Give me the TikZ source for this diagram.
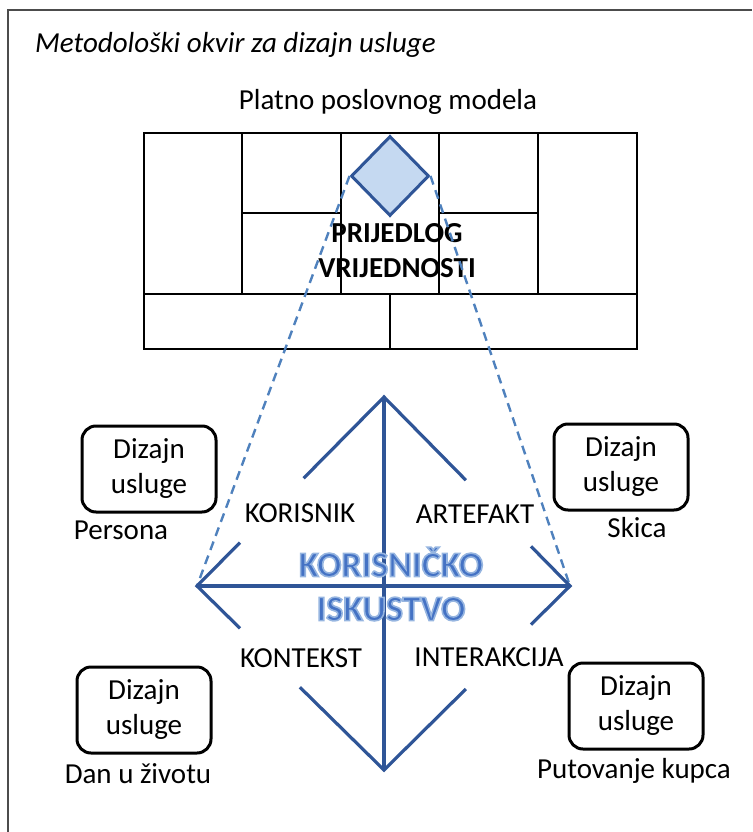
\documentclass[tikz,border=0pt]{standalone}
\usepackage{fontspec}
\setmainfont{Carlito}
\usetikzlibrary{shapes.geometric,calc}
\definecolor{uxblue}{RGB}{47,85,151}
\definecolor{dashblue}{RGB}{79,129,189}
\definecolor{vpfill}{RGB}{197,217,241}
\definecolor{uxtext}{RGB}{68,114,196}
\newcommand{\txtsize}{\fontsize{29}{35}\selectfont}
\newcommand{\uxsize}{\fontsize{36}{44}\selectfont}
% outlined (glow-like) text: fill + light stroke
\newcommand{\glowtxt}[1]{%
	\textcolor{uxtext}{%
	\special{pdf:literal direct 2 Tr 1.6 w 0.59 0.71 0.88 RG}%
	#1%
	\special{pdf:literal direct 0 Tr}}}
\tikzset{
	cell/.style={draw=black, line width=2.8pt},
	lbl/.style={inner sep=0pt, font=\txtsize},
	svcbox/.style={
		draw, line width=3pt, rounded corners=14pt, align=center,
		minimum width=134pt, minimum height=86pt, inner sep=0pt, font=\txtsize
	},
	uxline/.style={draw=uxblue, line width=3.2pt},
	zoomline/.style={draw=dashblue, line width=2.4pt, dash pattern=on 9pt off 6pt},
}

\begin{document}
\begin{tikzpicture}[x=1pt, y=-1pt]
\useasboundingbox (0,0) rectangle (752,832);
% frame
\draw[line width=1.5pt, draw=black!70] (8,832) -- (8,10) -- (752,10);
\node[lbl, anchor=west, font=\txtsize\itshape] (title) at (35,45) {Metodološki okvir za dizajn usluge};

% business model canvas
\node[lbl] (bmc) at (388,102) {Platno poslovnog modela};
\draw[cell] (144,133) rectangle (637,349);
\draw[cell] (144,294) -- (637,294);
\foreach \x in {242,341,439,538}
	\draw[cell] (\x,133) -- (\x,294);
\draw[cell] (242,213) -- (341,213);
\draw[cell] (439,213) -- (538,213);
\draw[cell] (390,294) -- (390,349);
\node[diamond, draw=uxblue, fill=vpfill, line width=3pt, inner sep=0pt,
	minimum width=78pt, minimum height=80pt] (vp) at (390,176) {};
\node[lbl, font=\txtsize\bfseries, align=center] (vptext) at (397,251)
	{PRIJEDLOG\\VRIJEDNOSTI};

% user experience diamond
\coordinate (ut) at (384,397);
\coordinate (ub) at (384,770);
\coordinate (ul) at (197,586);
\coordinate (ur) at (570,586);
\draw[zoomline] (vp.west) -- (ul);
\draw[zoomline] (vp.east) -- (ur);
\draw[uxline] (ut) -- (ub);
\draw[uxline] (ul) -- (ur);
\draw[uxline] ($(ut)!0.43!(ul)$) -- (ut) -- ($(ut)!0.44!(ur)$);
\draw[uxline] ($(ul)!0.23!(ut)$) -- (ul) -- ($(ul)!0.23!(ub)$);
\draw[uxline] ($(ur)!0.21!(ut)$) -- (ur) -- ($(ur)!0.21!(ub)$);
\draw[uxline] ($(ub)!0.45!(ul)$) -- (ub) -- ($(ub)!0.44!(ur)$);
\node[lbl] (user) at (300,513) {KORISNIK};
\node[lbl] (artefact) at (475,514) {ARTEFAKT};
\node[lbl] (context) at (301,658) {KONTEKST};
\node[lbl] (interaction) at (489,657) {INTERAKCIJA};
\node[lbl, font=\uxsize\bfseries, align=center] (ux) at (391,584)
	{\glowtxt{KORISNIČKO}\\\glowtxt{ISKUSTVO}};

% service design tools
\node[svcbox] (persona) at (149,469) {Dizajn\\usluge};
\node[svcbox] (sketch) at (621,467) {Dizajn\\usluge};
\node[svcbox] (dayinlife) at (144,710) {Dizajn\\usluge};
\node[svcbox] (journey) at (636,706) {Dizajn\\usluge};
\node[lbl] (personatxt) at (121,530) {Persona};
\node[lbl] (sketchtxt) at (637,528) {Skica};
\node[lbl] (dayinlifetxt) at (138,774) {Dan u životu};
\node[lbl] (journeytxt) at (634,771) {Putovanje kupca};
\end{tikzpicture}
\end{document}
